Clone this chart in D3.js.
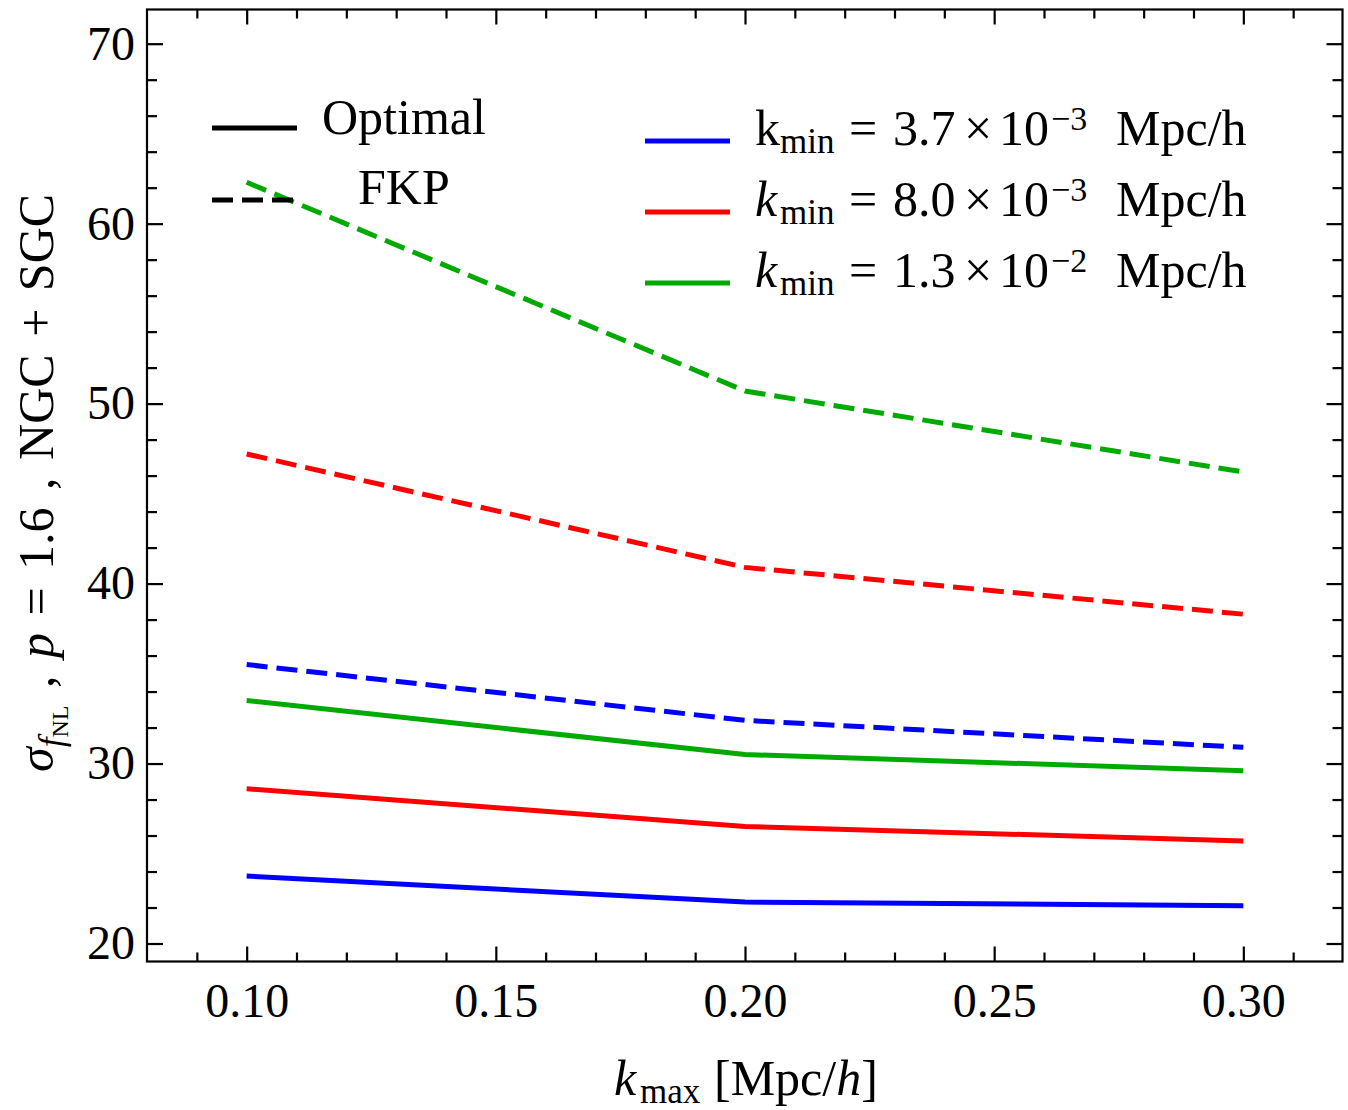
<!DOCTYPE html>
<html><head><meta charset="utf-8">
<script src="https://cdn.jsdelivr.net/npm/d3@7"></script>
<style>body{margin:0;background:#fff}svg{display:block}text{font-family:"Liberation Serif","Times New Roman",serif;fill:#000}</style>
</head><body><div id="chart"></div>
<script>
const kmax = [0.10, 0.20, 0.30];
const optimalBlue = [23.75, 22.3, 22.1];
const optimalRed = [28.6, 26.5, 25.7];
const optimalGreen = [33.5, 30.5, 29.6];
const fkpBlue = [35.5, 32.4, 30.9];
const fkpRed = [47.2, 40.9, 38.3];
const fkpGreen = [62.3, 50.7, 46.2];
const xTicks = [0.10, 0.15, 0.20, 0.25, 0.30];
const yTicks = [20, 30, 40, 50, 60, 70];

const W = 1348, H = 1110;
const svg = d3.select("#chart").append("svg").attr("width", W).attr("height", H);
const x = d3.scaleLinear().domain([0.08, 0.32]).range([147, 1343]);
const y = d3.scaleLinear().domain([19, 71.9]).range([961.5, 9.5]);

const series = [
  {v: optimalBlue, c: "#0000ff", d: false},
  {v: optimalRed, c: "#ff0000", d: false},
  {v: optimalGreen, c: "#00aa00", d: false},
  {v: fkpBlue, c: "#0000ff", d: true},
  {v: fkpRed, c: "#ff0000", d: true},
  {v: fkpGreen, c: "#00aa00", d: true}
];
const line = d3.line().x(d => x(d[0])).y(d => y(d[1]));
series.forEach(s => {
  svg.append("path").datum(kmax.map((k, i) => [k, s.v[i]]))
    .attr("d", line).attr("fill", "none").attr("stroke", s.c)
    .attr("stroke-width", 5).attr("stroke-linejoin", "round")
    .attr("stroke-dasharray", s.d ? "21,9" : null);
});

// frame and ticks
const fs = 48;
const xMinor = d3.range(9, 32).map(i => i / 100).filter(v => !xTicks.some(t => Math.abs(t - v) < 1e-9));
const yMinor = d3.range(20, 72, 2).filter(v => v % 10 !== 0);
const axB = d3.axisBottom(x).tickValues(xTicks).tickSize(-15).tickFormat(d3.format(".2f")).tickPadding(21);
const axT = d3.axisTop(x).tickValues(xTicks).tickSize(-15).tickFormat("");
const axL = d3.axisLeft(y).tickValues(yTicks).tickSize(-16).tickFormat(d3.format("d")).tickPadding(12);
const axR = d3.axisRight(y).tickValues(yTicks).tickSize(-16).tickFormat("");
const mB = d3.axisBottom(x).tickValues(xMinor).tickSize(-9).tickFormat("");
const mT = d3.axisTop(x).tickValues(xMinor).tickSize(-9).tickFormat("");
const mL = d3.axisLeft(y).tickValues(yMinor).tickSize(-10).tickFormat("");
const mR = d3.axisRight(y).tickValues(yMinor).tickSize(-10).tickFormat("");
function draw(ax, tr) {
  const g = svg.append("g").attr("transform", tr).call(ax);
  g.selectAll(".domain").remove();
  g.selectAll("line").attr("stroke", "#000").attr("stroke-width", 2.2);
  g.selectAll("text").style("font-size", fs + "px").style("font-family", '"Liberation Serif",serif').attr("fill", "#000");
  return g;
}
draw(axB, "translate(0,961.5)");
draw(axT, "translate(0,9.5)");
draw(axL, "translate(147,0)");
draw(axR, "translate(1342.5,0)");
draw(mB, "translate(0,961.5)");
draw(mT, "translate(0,9.5)");
draw(mL, "translate(147,0)");
draw(mR, "translate(1342.5,0)");
svg.append("rect").attr("x", 147).attr("y", 9.5).attr("width", 1195.5).attr("height", 952)
  .attr("fill", "none").attr("stroke", "#000").attr("stroke-width", 2.2);

// x label
const xl = svg.append("text").attr("y", 1095).style("font-size", "50px");
xl.append("tspan").attr("x", 614).attr("font-style", "italic").text("k");
xl.append("tspan").attr("x", 640).style("font-size", "35px").attr("dy", 8).text("max");
xl.append("tspan").attr("x", 714).attr("dy", -8).text("[Mpc/");
xl.append("tspan").attr("font-style", "italic").text("h");
xl.append("tspan").text("]");

// y label
const yl = svg.append("text").attr("transform", "translate(53,0) rotate(-90)").style("font-size", "50px").style("word-spacing", "5px");
yl.append("tspan").attr("x", -772).attr("font-style", "italic").text("σ");
yl.append("tspan").attr("font-style", "italic").style("font-size", "35px").attr("dy", 10).text("f");
yl.append("tspan").style("font-size", "24px").attr("dy", 5).text("NL");
yl.append("tspan").attr("dy", -15).text(" , ");
yl.append("tspan").attr("font-style", "italic").text("p");
yl.append("tspan").text(" = 1.6 , NGC + SGC");

// legend left
svg.append("line").attr("x1", 212).attr("x2", 297).attr("y1", 128).attr("y2", 128).attr("stroke", "#000").attr("stroke-width", 5);
svg.append("line").attr("x1", 212).attr("x2", 293).attr("y1", 200).attr("y2", 200).attr("stroke", "#000").attr("stroke-width", 5).attr("stroke-dasharray", "21,9");
svg.append("text").attr("x", 322).attr("y", 134).style("font-size", "50px").text("Optimal");
svg.append("text").attr("x", 358).attr("y", 204).style("font-size", "50px").text("FKP");

// legend right
const legColors = ["#0000ff", "#ff0000", "#00aa00"];
const legMant = ["3.7", "8.0", "1.3"];
const legExp = ["−3", "−3", "−2"];
const legItalic = [false, true, true];
legColors.forEach((c, i) => {
  const yy = 141 + i * 71;
  svg.append("line").attr("x1", 645).attr("x2", 730).attr("y1", yy).attr("y2", yy).attr("stroke", c).attr("stroke-width", 5);
  const t = svg.append("text").attr("y", yy + 4).style("font-size", "50px");
  t.append("tspan").attr("x", 755).attr("font-style", legItalic[i] ? "italic" : "normal").text("k");
  t.append("tspan").attr("x", 780).style("font-size", "35px").attr("dy", 8).text("min");
  t.append("tspan").attr("x", 849).attr("dy", -8).text("=");
  t.append("tspan").attr("x", 893).text(legMant[i]);
  t.append("tspan").attr("x", 964).text("×");
  t.append("tspan").attr("x", 999).text("10");
  t.append("tspan").attr("x", 1051).style("font-size", "34px").attr("dy", -15).text(legExp[i]);
  t.append("tspan").attr("x", 1116).attr("dy", 15).text("Mpc/h");
});
</script></body></html>
